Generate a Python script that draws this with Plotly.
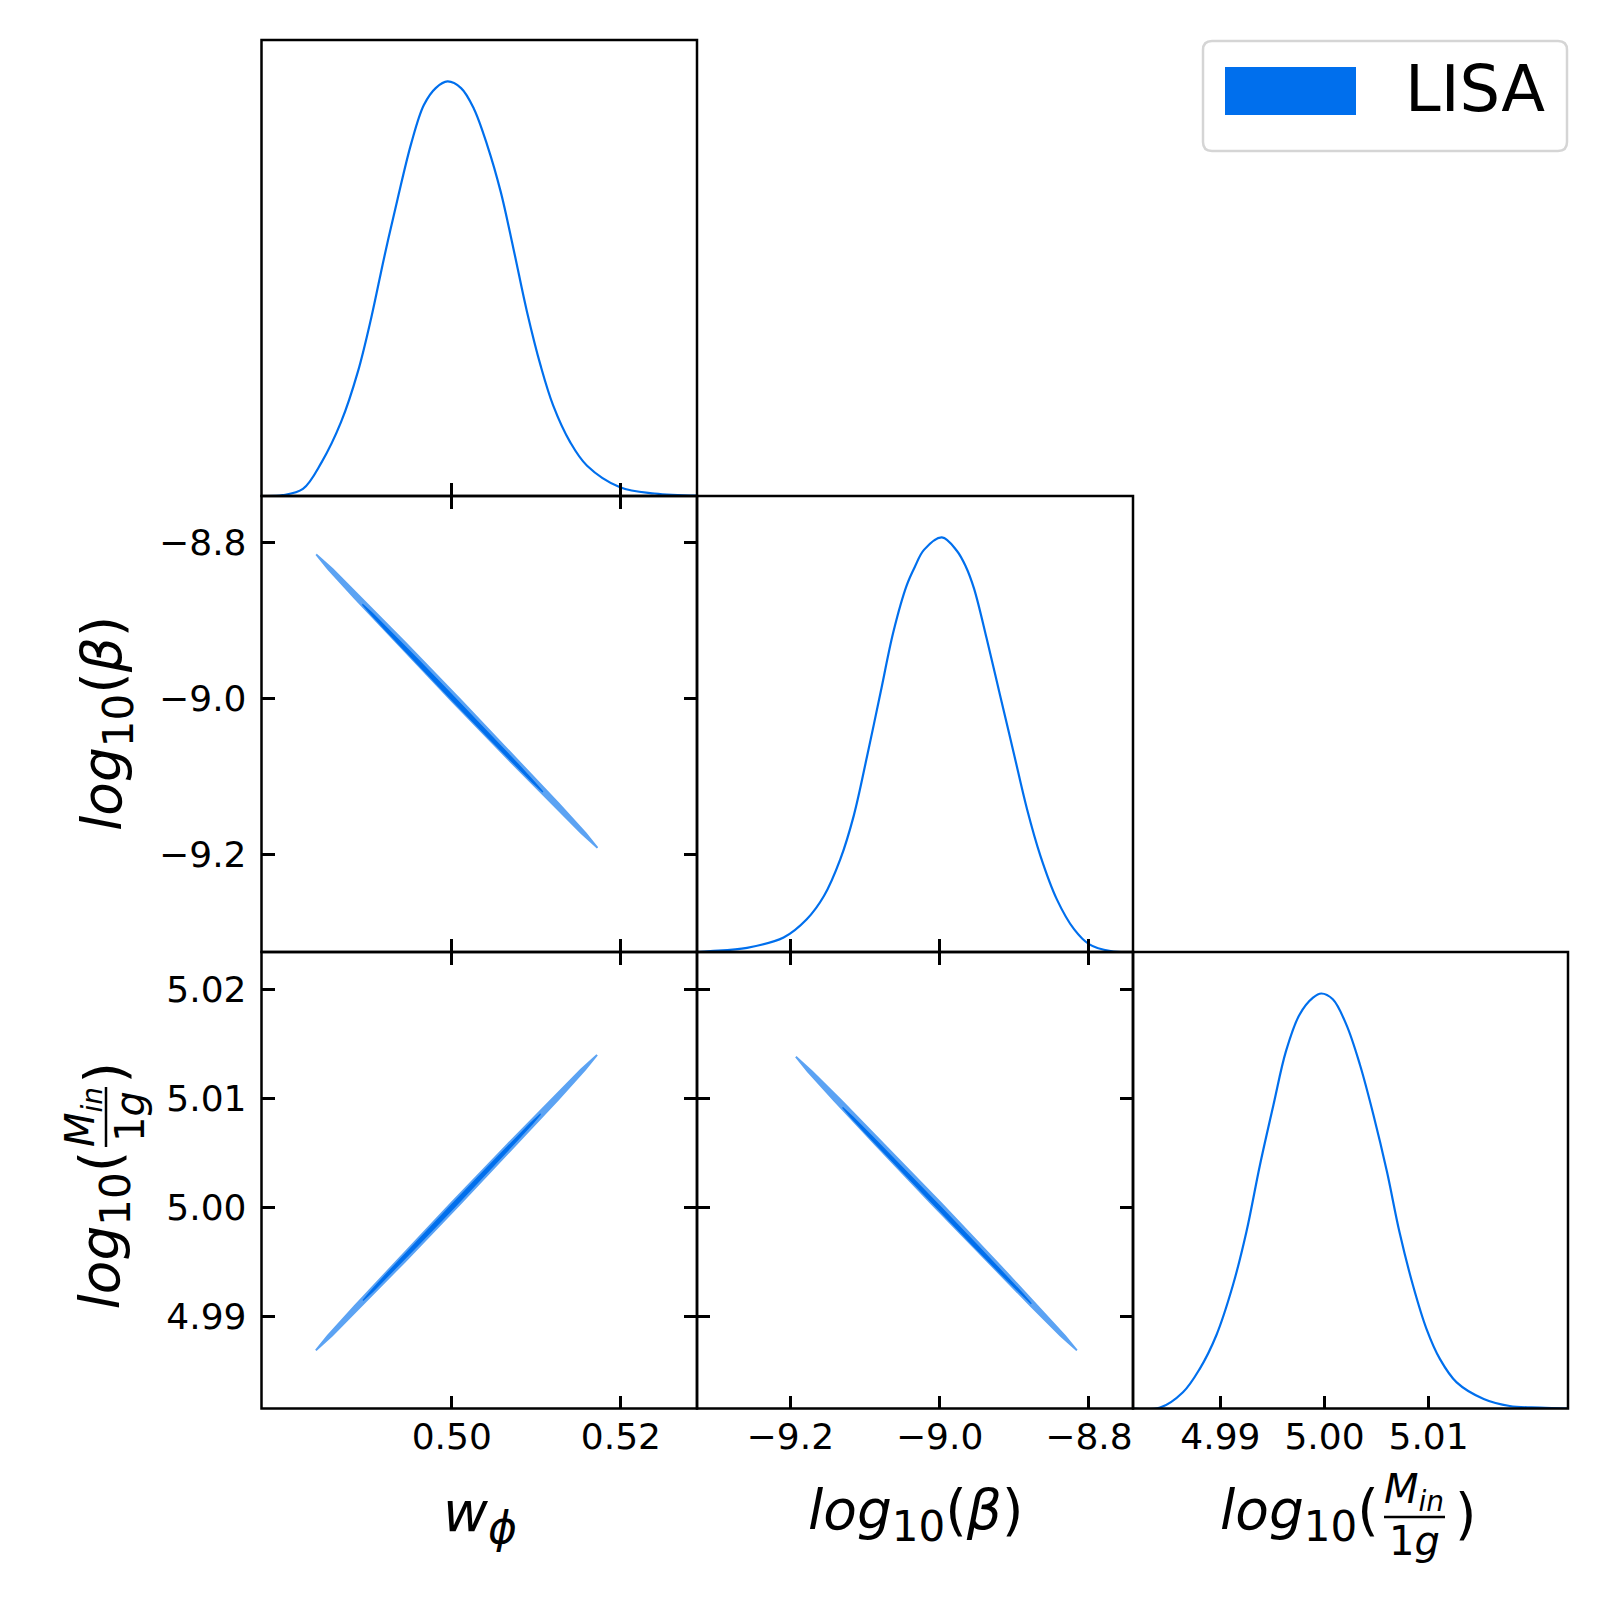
import plotly.graph_objects as go

# ---- 1D marginals (peak normalised to 1) ----
w_x = [0.4775, 0.4800, 0.4824, 0.4846, 0.4869, 0.4889, 0.4905, 0.4920, 0.4936, 0.4952, 0.4967, 0.4981, 0.4995,
       0.5011, 0.5026, 0.5042, 0.5058, 0.5073, 0.5089, 0.5105, 0.5120, 0.5140, 0.5160, 0.5199, 0.5240, 0.5290]
w_y = [0.0, 0.002, 0.017, 0.081, 0.178, 0.300, 0.432, 0.575, 0.717, 0.850, 0.943, 0.984, 1.0,
       0.984, 0.935, 0.846, 0.733, 0.596, 0.444, 0.315, 0.218, 0.130, 0.073, 0.021, 0.006, 0.001]

beta_x = [-9.325, -9.307, -9.258, -9.209, -9.178, -9.155, -9.133, -9.115, -9.097, -9.079, -9.062, -9.044, -9.033,
          -9.021, -8.997, -8.977, -8.965, -8.954, -8.937, -8.919, -8.901, -8.883, -8.865, -8.843, -8.820, -8.800,
          -8.771, -8.741]
beta_y = [0.0, 0.002, 0.010, 0.035, 0.079, 0.135, 0.224, 0.329, 0.474, 0.627, 0.772, 0.885, 0.930,
          0.970, 1.0, 0.968, 0.930, 0.877, 0.756, 0.619, 0.482, 0.345, 0.232, 0.127, 0.055, 0.019,
          0.002, 0.0]

m_x = [4.9816, 4.9842, 4.9864, 4.9880, 4.9896, 4.9912, 4.9925, 4.9938, 4.9951, 4.9963, 4.9976, 4.9989, 4.9997,
       5.0008, 5.0021, 5.0034, 5.0047, 5.0060, 5.0072, 5.0085, 5.0098, 5.0111, 5.0127, 5.0153, 5.0178, 5.0207, 5.0234]
m_y = [0.0, 0.002, 0.039, 0.095, 0.176, 0.297, 0.426, 0.587, 0.732, 0.861, 0.949, 0.990, 1.0,
       0.986, 0.925, 0.829, 0.708, 0.571, 0.426, 0.297, 0.192, 0.119, 0.063, 0.023, 0.006, 0.002, 0.0]

# ---- 2D contours (outer = 95%, inner = 68%), traced outlines ----
wb_outer_w = [0.48397, 0.48538, 0.48854, 0.49341, 0.50001, 0.50671, 0.51182, 0.51531, 0.51723,
              0.51583, 0.51266, 0.50779, 0.50119, 0.49449, 0.48938, 0.48589, 0.48397]
wb_outer_b = [-8.8158, -8.8345, -8.8721, -8.9285, -9.0036, -9.0787, -9.1351, -9.1727, -9.1915,
              -9.1727, -9.1351, -9.0787, -9.0036, -8.9285, -8.8721, -8.8345, -8.8158]
wb_inner_w = [0.48943, 0.49037, 0.49242, 0.49556, 0.49980, 0.50410, 0.50736, 0.50957, 0.51077,
              0.50983, 0.50778, 0.50465, 0.50040, 0.49611, 0.49284, 0.49063, 0.48943]
wb_inner_b = [-8.8796, -8.8916, -8.9157, -8.9517, -8.9998, -9.0479, -9.0839, -9.1080, -9.1200,
              -9.1080, -9.0839, -9.0479, -8.9998, -8.9517, -8.9157, -8.8916, -8.8796]

wm_outer_w = [0.48393, 0.48534, 0.48850, 0.49337, 0.49997, 0.50667, 0.51177, 0.51526, 0.51718,
              0.51577, 0.51261, 0.50774, 0.50114, 0.49444, 0.48934, 0.48585, 0.48393]
wm_outer_m = [4.98692, 4.98827, 4.99098, 4.99504, 5.00045, 5.00586, 5.00991, 5.01262, 5.01397,
              5.01262, 5.00991, 5.00586, 5.00045, 4.99504, 4.99098, 4.98827, 4.98692]
wm_inner_w = [0.48950, 0.49042, 0.49244, 0.49553, 0.49971, 0.50393, 0.50714, 0.50932, 0.51050,
              0.50958, 0.50756, 0.50447, 0.50030, 0.49607, 0.49286, 0.49068, 0.48950]
wm_inner_m = [4.99149, 4.99234, 4.99405, 4.99661, 5.00003, 5.00345, 5.00601, 5.00772, 5.00857,
              5.00772, 5.00601, 5.00345, 5.00003, 4.99661, 4.99405, 4.99234, 4.99149]

bm_outer_b = [-9.1926, -9.1767, -9.1409, -9.0858, -9.0111, -8.9353, -8.8774, -8.8379, -8.8162,
              -8.8321, -8.8679, -8.9230, -8.9977, -9.0735, -9.1314, -9.1709, -9.1926]
bm_outer_m = [5.01381, 5.01247, 5.00978, 5.00574, 5.00037, 4.99499, 4.99095, 4.98826, 4.98692,
              4.98826, 4.99095, 4.99499, 5.00037, 5.00574, 5.00978, 5.01247, 5.01381]
bm_inner_b = [-9.1300, -9.1188, -9.0945, -9.0572, -9.0070, -8.9561, -8.9175, -8.8913, -8.8772,
              -8.8884, -8.9127, -8.9500, -9.0003, -9.0511, -9.0897, -9.1159, -9.1300]
bm_inner_m = [5.00917, 5.00827, 5.00647, 5.00378, 5.00018, 4.99658, 4.99389, 4.99209, 4.99119,
              4.99209, 4.99389, 4.99658, 5.00018, 5.00378, 5.00647, 5.00827, 5.00917]

# ---- axes ----
w_range = [0.4775, 0.5290]
beta_range = [-9.325, -8.741]
m_range = [4.9816, 5.0234]
w_ticks = [0.50, 0.52]
w_ticktext = ["0.50", "0.52"]
beta_ticks = [-9.2, -9.0, -8.8]
beta_ticktext = ["\u22129.2", "\u22129.0", "\u22128.8"]
m_xticks = [4.99, 5.00, 5.01]
m_xticktext = ["4.99", "5.00", "5.01"]
m_yticks = [4.99, 5.00, 5.01, 5.02]
m_yticktext = ["4.99", "5.00", "5.01", "5.02"]
legend_label = "LISA"

BLUE = "#006FED"
LIGHT = "#5CA3F3"
FONT = "DejaVu Sans"
S = 1609.0


def px(x):
    return x / S


def py(y):
    return 1 - y / S


cols = [(261.5, 697), (697, 1133), (1133, 1568)]
rows = [(40, 496), (496, 952), (952, 1408.5)]

fig = go.Figure()

# panel id -> (row, col)
panels = {1: (0, 0), 2: (1, 0), 3: (1, 1), 4: (2, 0), 5: (2, 1), 6: (2, 2)}


def ax(n):
    return ("x" if n == 1 else f"x{n}"), ("y" if n == 1 else f"y{n}")


def add_line(n, x, y):
    xa, ya = ax(n)
    fig.add_trace(go.Scatter(x=x, y=y, mode="lines", line=dict(color=BLUE, width=2.2, shape="spline"),
                             xaxis=xa, yaxis=ya, showlegend=False, hoverinfo="skip"))


def add_contour(n, x, y, color, lw):
    xa, ya = ax(n)
    fig.add_trace(go.Scatter(x=x, y=y, mode="lines", fill="toself", fillcolor=color,
                             line=dict(color=color, width=lw), xaxis=xa, yaxis=ya,
                             showlegend=False, hoverinfo="skip"))


add_line(1, w_x, w_y)
add_line(3, beta_x, beta_y)
add_line(6, m_x, m_y)
add_contour(2, wb_outer_w, wb_outer_b, LIGHT, 1.9)
add_contour(2, wb_inner_w, wb_inner_b, BLUE, 1.3)
add_contour(4, wm_outer_w, wm_outer_m, LIGHT, 1.9)
add_contour(4, wm_inner_w, wm_inner_m, BLUE, 1.3)
add_contour(5, bm_outer_b, bm_outer_m, LIGHT, 1.9)
add_contour(5, bm_inner_b, bm_inner_m, BLUE, 1.3)

base = dict(showline=False, showgrid=False, zeroline=False,
            ticks="inside", ticklen=13, tickwidth=2.5, tickcolor="black",
            tickfont=dict(family=FONT, size=36, color="black"))

xspec = {1: (w_range, w_ticks, w_ticktext), 2: (w_range, w_ticks, w_ticktext), 4: (w_range, w_ticks, w_ticktext),
         3: (beta_range, beta_ticks, beta_ticktext), 5: (beta_range, beta_ticks, beta_ticktext),
         6: (m_range, m_xticks, m_xticktext)}
yspec = {2: (beta_range, beta_ticks, beta_ticktext), 4: (m_range, m_yticks, m_yticktext),
         5: (m_range, m_yticks, m_yticktext)}

layout = {}
shapes = []
for n, (r, c) in panels.items():
    xa, ya = ax(n)
    rng, tv, tt = xspec[n]
    is2d = n in yspec
    xd = dict(base, domain=[px(cols[c][0]), px(cols[c][1])], range=rng, tickvals=tv, ticktext=tt,
              anchor=ya, mirror="ticks" if is2d else False, showticklabels=(r == 2), ticklabelstandoff=3)
    if is2d:
        yr, ytv, ytt = yspec[n]
        yd = dict(base, domain=[py(rows[r][1]), py(rows[r][0])], range=yr, tickvals=ytv, ticktext=ytt,
                  anchor=xa, mirror="ticks", showticklabels=(c == 0), ticklabelstandoff=14)
    else:
        yd = dict(base, domain=[py(rows[r][1]), py(rows[r][0])], range=[0, 1.1], ticks="",
                  anchor=xa, showticklabels=False)
    layout["xaxis" if n == 1 else f"xaxis{n}"] = xd
    layout["yaxis" if n == 1 else f"yaxis{n}"] = yd
    # panel frame
    shapes.append(dict(type="rect", xref=f"{xa} domain", yref=f"{ya} domain", x0=0, x1=1, y0=0, y1=1,
                       line=dict(color="black", width=2.5), layer="above"))

fig.update_layout(**layout)

# ---- axis labels (mathtext look-alikes) ----
ann = []
big = dict(family=FONT, size=55, color="black")
small = dict(family=FONT, size=40, color="black")
lab_log = "<i>log</i><sub><span style='font-size:42px'>10</span></sub>("

ann.append(dict(text="<i>w</i><sub><i><span style='font-size:44px'>\u03d5</span></i></sub>",
                x=px(480), y=py(1516), font=big))
ann.append(dict(text=lab_log + "<i>\u03b2</i>)", x=px(915), y=py(1514), font=big))
# composite x label with fraction
ann.append(dict(text=lab_log, x=px(1381), y=py(1514), font=big, xanchor="right"))
ann.append(dict(text="<i>M</i><sub><i>in</i></sub>", x=px(1414), y=py(1492), font=small))
ann.append(dict(text="1<i>g</i>", x=px(1414), y=py(1541), font=small))
ann.append(dict(text=")", x=px(1453), y=py(1514), font=big, xanchor="left"))

# y labels (rotated)
ann.append(dict(text=lab_log + "<i>\u03b2</i>)", x=px(106), y=py(724), font=big, textangle=-90))
ann.append(dict(text=lab_log, x=px(104), y=py(1149), font=big, textangle=-90, yanchor="top"))
ann.append(dict(text="<i>M</i><sub><i>in</i></sub>", x=px(83), y=py(1117), font=small, textangle=-90))
ann.append(dict(text="1<i>g</i>", x=px(130), y=py(1117), font=small, textangle=-90))
ann.append(dict(text=")", x=px(104), y=py(1086), font=big, textangle=-90, yanchor="bottom"))

# legend text
ann.append(dict(text=legend_label, x=px(1403), y=py(89), font=dict(family=FONT, size=64, color="black"),
                xanchor="left"))

for a in ann:
    a.setdefault("xanchor", "center")
    a.setdefault("yanchor", "middle")
    a.update(xref="paper", yref="paper", showarrow=False)

# fraction bars
shapes.append(dict(type="line", xref="paper", yref="paper", x0=px(1384), x1=px(1445), y0=py(1517), y1=py(1517),
                   line=dict(color="black", width=2.5)))
shapes.append(dict(type="line", xref="paper", yref="paper", x0=px(106), x1=px(106), y0=py(1087), y1=py(1147),
                   line=dict(color="black", width=2.5)))


# legend frame (rounded) and patch
def rounded(x0, y0, x1, y1, r):
    X0, X1 = px(x0), px(x1)
    Y0, Y1 = py(y0), py(y1)
    rx, ry = r / S, r / S
    return (f"M {X0 + rx},{Y0} L {X1 - rx},{Y0} Q {X1},{Y0} {X1},{Y0 - ry} "
            f"L {X1},{Y1 + ry} Q {X1},{Y1} {X1 - rx},{Y1} L {X0 + rx},{Y1} Q {X0},{Y1} {X0},{Y1 + ry} "
            f"L {X0},{Y0 - ry} Q {X0},{Y0} {X0 + rx},{Y0} Z")


shapes.append(dict(type="path", xref="paper", yref="paper", path=rounded(1203, 41, 1567, 151, 9),
                   fillcolor="white", line=dict(color="#d5d5d5", width=2.5)))
shapes.append(dict(type="rect", xref="paper", yref="paper", x0=px(1225), x1=px(1356), y0=py(115), y1=py(67),
                   fillcolor=BLUE, line=dict(width=0)))

fig.update_layout(
    width=1609, height=1609, autosize=False,
    margin=dict(l=0, r=0, t=0, b=0),
    paper_bgcolor="white", plot_bgcolor="white",
    showlegend=False,
    annotations=ann, shapes=shapes,
    font=dict(family=FONT, color="black"),
)

fig.write_html("out.html", config={"displayModeBar": False},
               post_script="document.body.style.margin='0px';")
